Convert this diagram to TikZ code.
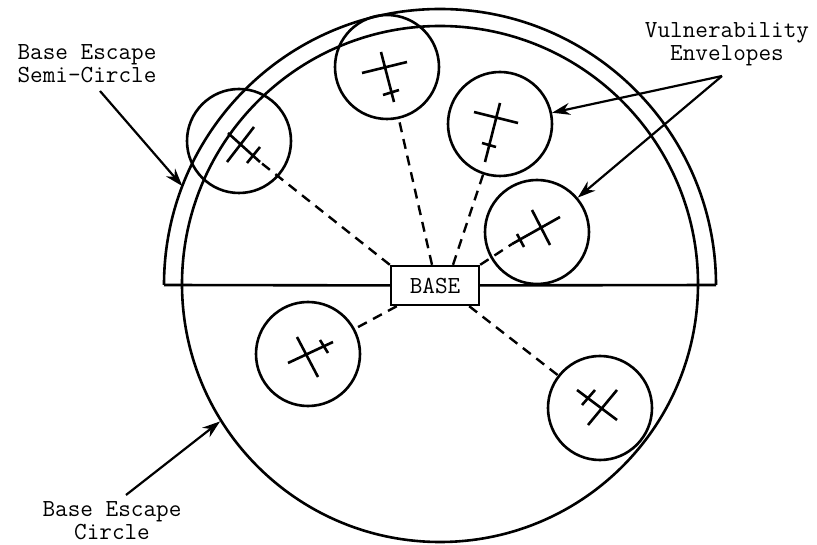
\documentclass[tikz,border=0pt]{standalone}
\usepackage{fontspec}
\usetikzlibrary{arrows.meta}

\begin{document}
\begin{tikzpicture}[x=1pt,y=1pt,
  envelope/.style={circle,draw,line width=2.6pt,minimum size=104pt,inner sep=0pt},
  track/.style={line width=2.4pt,dash pattern=on 10pt off 7pt},
  craft/.style={line width=2.6pt},
  pointer/.style={line width=2.2pt,-{Stealth[length=18pt,width=12pt]}},
  lbl/.style={font=\ttfamily\fontsize{24.5}{23}\selectfont,align=center,inner sep=0pt}]
\useasboundingbox (0,0) rectangle (817,544);

\node[circle,draw,line width=2.6pt,minimum size=516pt,inner sep=0pt] (escape) at (440,260) {};
\coordinate (arcL) at (164,259);
\coordinate (arcR) at (716,259);
\draw[line width=2.6pt] (arcR) arc[start angle=0,end angle=180,radius=276];
\node[lbl,draw,fill=white,line width=2.4pt,minimum width=88pt,minimum height=39pt] (base) at (435,258.5) {BASE};
\draw[line width=2.6pt] (arcL) -- (base) -- (arcR);

\node[envelope] (env1) at (239,403) {};
\node[envelope] (env2) at (387,477) {};
\node[envelope] (env3) at (500,420) {};
\node[envelope] (env4) at (537,312) {};
\node[envelope] (env5) at (308,190) {};
\node[envelope] (env6) at (600,136) {};

\draw[craft] (228,411) -- (260,382) (227,382) -- (254,417) (247,381) -- (260,397);
\draw[craft] (381,492) -- (394,442) (362,471) -- (407,482) (383,449) -- (399,454);
\draw[craft] (500,441) -- (485,382) (474,432) -- (518,421) (482,401) -- (496,397);
\draw[craft] (560,327) -- (512,300) (532,334) -- (550,299) (517,310) -- (524,297);
\draw[craft] (288,181) -- (333,202) (297,207) -- (318,167) (320,204) -- (328,191);
\draw[craft] (577,154) -- (617,124) (588,119) -- (617,154) (582,139) -- (595,154);
\coordinate (tail1) at (260,382);
\coordinate (tail4) at (512,300);

\draw[track] (base.north west) -- (tail1);
\draw[track] ([xshift=-3pt]base.north) -- (env2);
\draw[track] ([xshift=18pt]base.north) -- (env3);
\draw[track] (base.north east) -- (tail4);
\draw[track] ([xshift=7pt]base.south west) -- (env5);
\draw[track] ([xshift=-11pt]base.south east) -- (env6);

\node[lbl] (semilbl) at (87,480) {Base Escape\\Semi-Circle};
\node[lbl] (vulnlbl) at (727,500) {Vulnerability\\Envelopes};
\node[lbl] (esclbl) at (112,23) {Base Escape\\Circle};
\coordinate (semifoot) at (100,453);
\coordinate (vulnfoot) at (722,468);
\coordinate (escfoot) at (126,49);
\coordinate (semipt) at ([shift={(440,259)}]159:276);

\draw[pointer] (semifoot) -- (semipt);
\draw[pointer] (vulnfoot) -- (env3);
\draw[pointer] (vulnfoot) -- (env4);
\draw[pointer] (escfoot) -- (escape.212.5);
\end{tikzpicture}
\end{document}
